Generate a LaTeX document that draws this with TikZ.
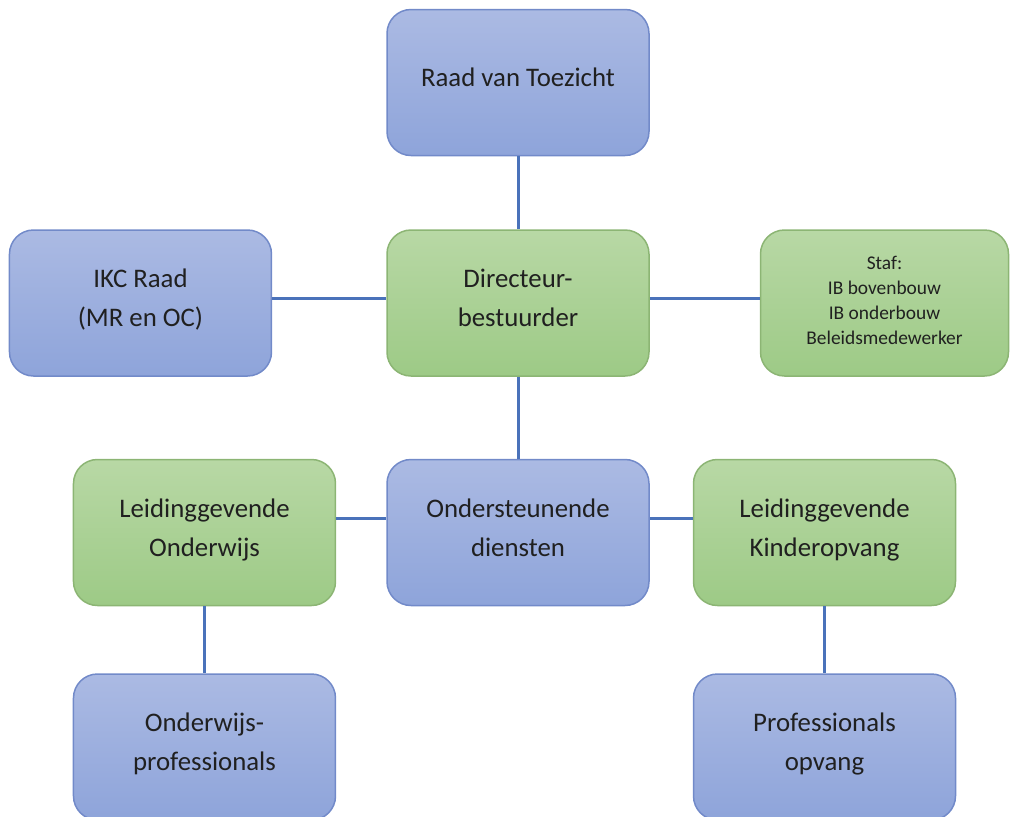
\documentclass[tikz,border=0pt]{standalone}
\usepackage{fontspec}
\setmainfont{Carlito}
\definecolor{orgBlueTop}{RGB}{171,186,227}
\definecolor{orgBlueBot}{RGB}{142,164,218}
\definecolor{orgBlueLine}{RGB}{114,138,201}
\definecolor{orgGreenTop}{RGB}{184,216,165}
\definecolor{orgGreenBot}{RGB}{157,202,134}
\definecolor{orgGreenLine}{RGB}{140,181,116}
\definecolor{orgLink}{RGB}{74,114,186}
\definecolor{orgText}{RGB}{32,32,32}
\usepackage{tikz}
\usetikzlibrary{positioning}

\begin{document}
\begin{tikzpicture}[
  box/.style={draw, line width=0.75pt, rounded corners=12pt, minimum width=131pt,
              minimum height=73pt, align=center, text=orgText, text depth=5pt,
              font=\fontsize{13.4}{19.5}\selectfont},
  bluebox/.style={box, draw=orgBlueLine, top color=orgBlueTop, bottom color=orgBlueBot},
  greenbox/.style={box, draw=orgGreenLine, top color=orgGreenTop, bottom color=orgGreenBot},
  link/.style={line width=1.5pt, orgLink}
]
  \useasboundingbox (-259pt,151.5pt) rectangle (246pt,-256.5pt);

  \node[greenbox]                        (dir)  {Directeur-\\bestuurder};
  \node[bluebox, above=36.5pt of dir]    (raad) {Raad van Toezicht};
  \node[bluebox, left=57pt of dir]       (ikc)  {IKC Raad\\(MR en OC)};
  \node[greenbox, right=55pt of dir, minimum width=124pt, text depth=3pt,
        font=\fontsize{9.7}{12.5}\selectfont] (staf)
        {Staf:\\IB bovenbouw\\IB onderbouw\\Beleidsmedewerker};
  \node[bluebox, below=41pt of dir]      (ond)  {Ondersteunende\\diensten};
  \node[greenbox, left=25pt of ond]      (lo)   {Leidinggevende\\Onderwijs};
  \node[greenbox, right=21.5pt of ond]   (lk)   {Leidinggevende\\Kinderopvang};
  \node[bluebox, below=33.5pt of lo]     (op)   {Onderwijs-\\professionals};
  \node[bluebox, below=33.5pt of lk]     (po)   {Professionals\\opvang};

  \draw[link] (raad) -- (dir);
  \draw[link] ([yshift=2.5pt]ikc.east) -- ([yshift=2.5pt]dir.west);
  \draw[link] ([yshift=2.5pt]dir.east) -- ([yshift=2.5pt]staf.west);
  \draw[link] (dir) -- (ond);
  \draw[link] ([yshift=7pt]lo.east) -- ([yshift=7pt]ond.west);
  \draw[link] ([yshift=7pt]ond.east) -- ([yshift=7pt]lk.west);
  \draw[link] (lo) -- (op);
  \draw[link] (lk) -- (po);
\end{tikzpicture}
\end{document}
